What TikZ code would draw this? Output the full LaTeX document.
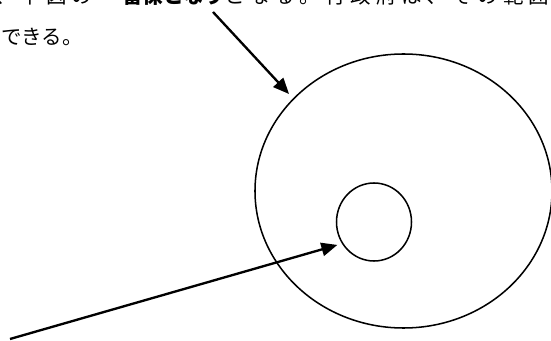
\documentclass[tikz,border=0pt]{standalone}
\usepackage{fontspec}
\setmainfont{Noto Sans CJK JP}
\newfontfamily\spacedjp[LetterSpace=24]{Noto Sans CJK JP}
\usetikzlibrary{shapes.geometric,arrows.meta}
\begin{document}
\begin{tikzpicture}[x=0.03cm, y=-0.03cm,
  txt/.style={anchor=base west, inner sep=0, font=\fontsize{17.5}{20}\selectfont},
  ring/.style={draw, ellipse, line width=1.3pt, inner sep=0},
  pointer/.style={line width=2pt, -{Triangle[length=0.48cm, width=0.4cm]}}
]
\useasboundingbox (0,0) rectangle (551,341);
\node[txt] (line1) at (-5,4) {{\spacedjp 、下図の「}\textbf{留保となり}{\spacedjp となる。行政府は、その範囲}};
\node[txt] (line2) at (1,45) {できる。};

\node[ring, minimum width=8.91cm, minimum height=8.22cm] (outer) at (403.5,191) {};
\node[ring, minimum width=2.25cm, minimum height=2.34cm] (inner) at (374,222) {};

\coordinate (from1) at (213,12);
\coordinate (from2) at (10,339);
\draw[pointer, shorten >=5pt] (from1) -- (outer.140);
\draw[pointer, shorten >=4pt] (from2) -- (inner.214);
\end{tikzpicture}
\end{document}
